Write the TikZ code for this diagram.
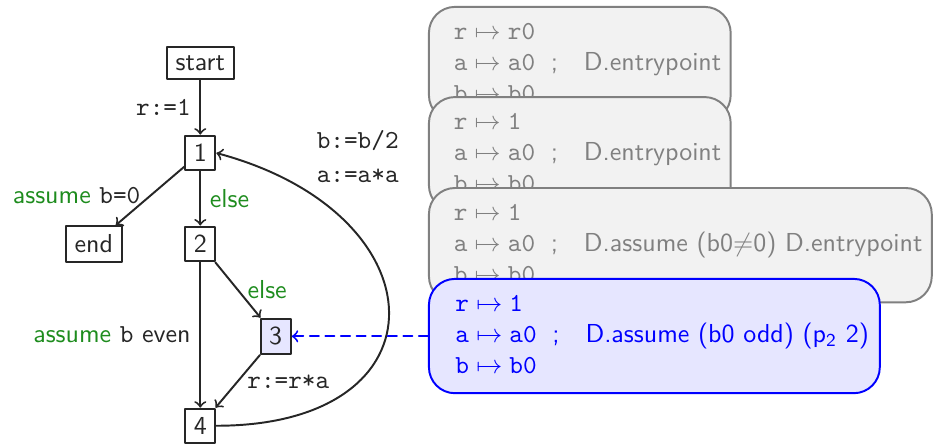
\documentclass[tikz,border=0pt]{standalone}
\usepackage{amssymb}
\usetikzlibrary{arrows.meta, positioning, calc}
\renewcommand{\familydefault}{\sfdefault}
\definecolor{cfggreen}{HTML}{1E8C1E}
\definecolor{cfgink}{HTML}{262626}
\definecolor{boxfill}{HTML}{F2F2F2}
\definecolor{boxline}{HTML}{808080}
\definecolor{curfill}{HTML}{E6E6FF}
\newcommand{\grn}[1]{\textcolor{cfggreen}{#1}}
\newcommand{\bind}[2]{\texttt{#1}${}\mapsto{}$\texttt{#2}}
\newcommand{\state}[2]{\begin{tabular}{l}\bind{r}{#1}\\ \bind{a}{a0}\\ \bind{b}{b0}\end{tabular};\quad #2}

\begin{document}
\begin{tikzpicture}[>=to, line join=round, line cap=round,
    blk/.style={draw=cfgink, line width=0.75pt, inner sep=3.3pt, text=cfgink},
    lbl/.style={text=cfgink},
    past/.style={draw=boxline, line width=0.75pt, fill=boxfill, text=boxline, rounded corners=10pt,
      inner xsep=3.6pt, inner ysep=4pt, anchor=north west},
    cur/.style={draw=blue, line width=0.75pt, fill=curfill, text=blue, rounded corners=10pt,
      inner xsep=4.2pt, inner ysep=4pt, anchor=north west}]
      \useasboundingbox (0,0) rectangle (12.65,-6.02);
      % control flow graph
      \node[blk] (start) at (2.71,-0.85) {start};
      \node[blk] (n1) at (2.71,-2.07) {1};
      \node[blk] (end) at (1.27,-3.30) {end};
      \node[blk] (n2) at (2.71,-3.30) {2};
      \node[blk, fill=curfill] (n3) at (3.73,-4.55) {3};
      \node[blk] (n4) at (2.71,-5.76) {4};
      \draw[->, line width=0.75pt, cfgink] (start) -- node[lbl, left] {\texttt{r:=1}} (n1);
      \draw[->, line width=0.75pt, cfgink] (n1) -- node[lbl, left] {\grn{assume} \texttt{b=0}} (end);
      \draw[->, line width=0.75pt, cfgink] (n1) -- node[right] {\grn{else}} (n2);
      \draw[->, line width=0.75pt, cfgink] (n2) -- node[right] {\grn{else}} (n3);
      \draw[->, line width=0.75pt, cfgink] (n2) -- node[lbl, left] {\grn{assume} \texttt{b} even} (n4);
      \draw[->, line width=0.75pt, cfgink] (n3) -- node[lbl, right] {\texttt{r:=r*a}} (n4);
      \draw[->, line width=0.75pt, cfgink] (n4.east) to[out=0, in=-15, looseness=2.2] (n1.east);
      \node[lbl, align=left] (upd) at (4.84,-2.12) {\texttt{b:=b/2}\\[1pt] \texttt{a:=a*a}};
      % abstract states
      \node[past] (sA) at (5.79,-0.08) {\state{r0}{D.entrypoint}};
      \node[past] (sB) at (5.79,-1.30) {\state{1}{D.entrypoint}};
      \node[past] (sC) at (5.79,-2.53) {\state{1}{D.assume (b0$\neq$0) D.entrypoint}};
      \node[cur] (sD) at (5.79,-3.76) {\state{1}{D.assume (b0 odd) (p\textsubscript{2} 2)}};
      \draw[->, line width=0.75pt, blue, dash pattern=on 3.5pt off 2.5pt] (sD.west |- n3) -- (n3);
    \end{tikzpicture}
\end{document}
